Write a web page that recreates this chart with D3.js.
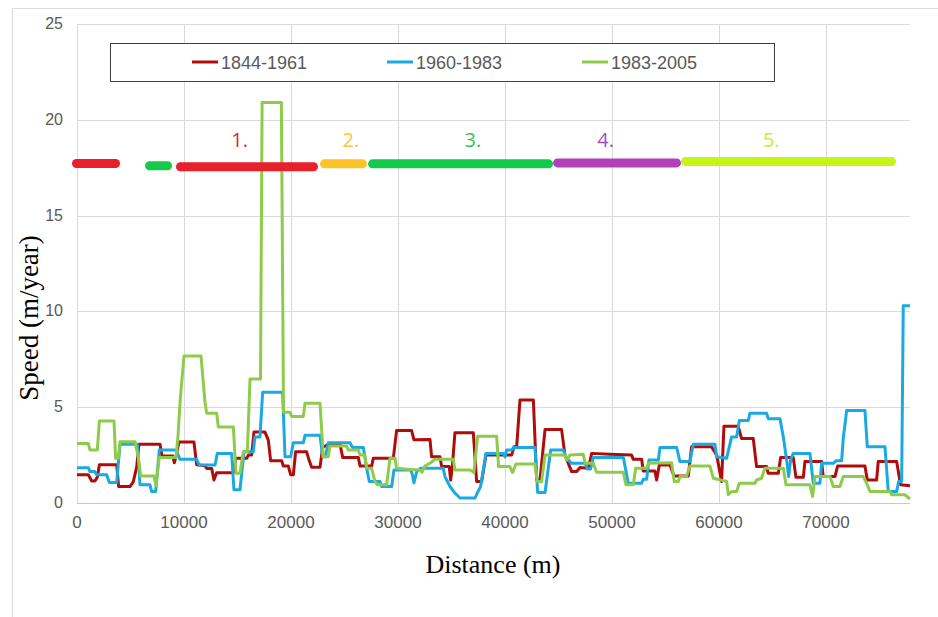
<!DOCTYPE html>
<html>
<head>
    <meta charset="utf-8">
    <title>Speed along distance</title>
    <script src="https://d3js.org/d3.v7.min.js"></script>
    <style>
        body { margin: 0; padding: 0; background: #fff; }
    </style>
</head>
<body>
    <div id="chart"></div>

    <script>
// Tick labels
const xTicks = [0, 10000, 20000, 30000, 40000, 50000, 60000, 70000];
const yTicks = [0, 5, 10, 15, 20, 25];

// Series: [distance (m), speed (m/year)]
const seriesNames = ["1844-1961", "1960-1983", "1983-2005"];

const speed1844 = [
  [0,1.47],[1060,1.47],[1370,1.15],[1680,1.15],[1900,1.35],[2090,2.0],[3710,2.0],[3890,0.86],[4950,0.86],[5260,1.1],
  [5580,1.9],[5790,3.07],[7760,3.07],[7940,2.45],[8940,2.45],[9100,2.1],[9250,2.45],[9530,3.19],[10930,3.19],[11180,2.0],
  [11960,1.95],[12120,1.8],[12590,1.8],[12800,1.2],[13050,1.58],[14600,1.58],[14850,2.33],[15860,2.33],[16010,2.5],[16320,2.5],
  [16540,3.7],[17570,3.7],[17880,3.28],[18100,2.2],[19130,2.2],[19280,1.93],[19750,1.93],[19970,1.47],[20220,1.47],[20430,2.67],
  [21460,2.67],[21710,2.2],[21930,1.86],[22710,1.86],[22960,2.9],[23490,3.07],[24580,3.07],[24830,2.38],[26290,2.38],[26450,1.93],
  [27540,1.93],[27690,2.33],[29560,2.33],[29870,3.79],[31270,3.79],[31490,3.3],[32990,3.31],[33140,2.41],[33920,2.41],[34080,1.9],
  [34790,1.9],[34920,1.2],[35080,1.9],[35320,3.66],[37040,3.66],[37350,1.12],[37820,1.12],[38220,2.5],[40620,2.5],[40840,2.93],
  [41090,2.93],[41400,5.38],[42650,5.38],[42960,1.2],[43270,1.2],[43740,3.83],[45290,3.83],[45600,2.5],[46230,1.64],[46700,1.64],
  [47010,1.85],[47790,1.81],[48100,2.59],[49800,2.55],[51830,2.5],[51990,2.28],[52770,2.28],[52920,1.67],[54010,1.67],[54170,1.2],
  [54420,1.98],[55420,1.98],[55790,1.41],[57130,1.41],[57440,2.93],[59310,2.93],[59780,2.5],[60240,1.12],[60460,4.0],[61800,4.0],
  [62110,3.36],[63200,3.36],[63510,1.9],[64450,1.9],[64600,1.55],[65540,1.55],[65760,2.38],[66940,2.38],[67190,1.34],[67880,1.34],
  [68030,2.16],[69590,2.16],[69740,1.38],[70840,1.38],[71080,1.93],[73640,1.93],[73860,1.2],[74730,1.2],[74880,2.16],[76600,2.16],
  [76970,0.95],[77850,0.9]
];

const speed1960 = [
  [0,1.84],[1060,1.84],[1215,1.64],[1680,1.64],[1840,1.47],[2770,1.47],[3020,1.07],[3710,1.07],[4020,3.07],[5640,3.07],
  [5890,0.95],[6820,0.95],[6980,0.6],[7350,0.6],[7690,2.76],[9250,2.76],[9630,2.28],[11180,2.28],[11430,1.98],[12900,1.98],
  [13110,2.59],[14450,2.59],[14670,0.69],[15230,0.69],[15610,2.67],[16480,2.67],[16630,3.45],[17100,3.45],[17350,5.78],[19220,5.78],
  [19440,2.41],[19970,2.41],[20220,3.14],[21150,3.14],[21310,3.53],[22710,3.53],[22960,2.41],[23210,2.41],[23490,3.14],[25510,3.14],
  [25760,2.9],[26760,2.9],[27070,1.81],[27320,1.12],[28320,1.12],[28470,0.86],[29410,0.86],[29620,1.72],[31200,1.72],[31350,1.47],
  [31490,1.05],[31750,1.64],[32100,1.81],[34230,1.81],[34390,1.38],[34860,0.86],[35320,0.52],[35790,0.26],[37190,0.26],[37410,0.52],
  [37720,0.86],[38220,2.59],[39840,2.59],[40000,2.41],[40150,2.76],[40620,2.76],[40780,2.9],[42800,2.9],[43050,0.55],[43740,0.55],
  [44270,2.76],[45450,2.76],[45760,2.33],[46230,2.07],[47500,2.07],[47700,1.78],[48000,1.78],[48250,2.38],[51060,2.38],[51520,1.03],
  [52770,1.03],[52920,1.24],[53240,1.24],[53450,2.24],[54330,2.24],[54480,2.9],[56040,2.9],[56350,2.16],[57280,2.16],[57600,3.07],
  [59620,3.07],[59780,2.41],[60710,2.33],[61180,3.45],[61650,3.45],[61900,4.31],[62740,4.31],[62890,4.69],[64450,4.69],[64600,4.4],
  [65700,4.4],[66010,3.45],[66320,2.24],[66510,1.38],[66690,2.24],[66940,2.59],[68500,2.59],[68810,1.03],[69430,1.03],[69590,2.07],
  [70680,2.07],[70930,2.2],[71460,2.2],[71610,3.36],[71930,4.83],[73640,4.83],[73860,2.93],[75510,2.93],[75820,0.6],[76600,0.6],
  [76790,1.12],[77070,1.12],[77220,10.3],[77850,10.3]
];

const speed1983 = [
  [0,3.1],[1060,3.1],[1215,2.76],[1900,2.76],[2090,4.28],[3460,4.28],[3610,2.33],[3860,2.33],[4020,3.2],[5420,3.2],
  [5730,2.4],[5950,1.41],[7200,1.41],[7380,0.9],[7690,2.38],[9250,2.38],[9440,3.5],[9630,5.26],[10000,7.67],[11590,7.67],
  [11960,5.26],[12120,4.69],[13050,4.69],[13210,3.97],[14610,3.97],[14860,1.55],[15230,1.55],[15540,2.67],[15920,2.67],[16170,6.47],
  [17150,6.47],[17300,20.9],[19100,20.9],[19300,4.74],[19900,4.74],[20060,4.52],[21150,4.52],[21310,5.21],[22710,5.21],[23020,2.41],
  [23490,2.41],[23640,2.97],[25200,2.97],[25360,2.76],[26290,2.76],[26450,2.5],[26910,2.5],[27070,1.81],[27540,1.81],[27850,1.12],
  [28070,0.95],[28940,0.95],[29250,2.33],[29720,2.33],[29870,1.81],[31120,1.75],[32050,1.72],[32240,1.6],[32520,1.93],[33050,2.1],
  [33450,2.28],[35170,2.28],[35320,1.72],[36730,1.72],[37100,1.6],[37440,3.48],[39220,3.48],[39400,1.9],[40460,1.9],[40710,1.59],
  [41020,2.03],[42800,2.03],[43020,1.12],[43420,1.12],[43740,2.5],[45600,2.5],[45760,2.24],[46070,2.5],[47300,2.55],[47500,2.07],
  [48250,2.07],[48560,1.6],[51060,1.6],[51300,0.95],[51990,0.95],[52210,1.81],[53240,1.81],[53390,2.07],[55570,2.1],[55820,1.12],
  [56200,1.12],[56350,1.38],[56970,1.38],[57280,1.93],[59150,1.93],[59470,1.29],[60710,1.12],[60870,0.43],[61180,0.6],[61650,0.6],
  [61900,1.03],[63360,1.03],[63510,1.2],[63980,1.29],[64290,1.81],[66010,1.81],[66260,0.95],[68500,0.95],[68750,0.34],[68970,1.38],
  [70370,1.38],[70680,0.86],[71300,0.86],[71610,1.38],[73480,1.38],[73800,1.03],[74110,0.6],[75980,0.6],[76130,0.43],[77380,0.43],
  [77850,0.21]
];

// Hand-drawn reach segments (start m, end m, level) and their labels
const segStart = [-50, 6780, 9670, 23130, 27620, 44910, 56870];
const segEnd   = [3600, 8460, 22100, 26680, 44070, 56030, 76120];
const segLevel = [17.72, 17.6, 17.55, 17.7, 17.7, 17.75, 17.82];
const segLabels = ["1.", "2.", "3.", "4.", "5."];
const segLabelAt = [15200, 25600, 37000, 49400, 64900];

// Styles
const seriesColors = ["#b00c0c", "#1ba9e1", "#8fcb4b"];
const segColors = ["#e8202b", "#15c94a", "#e8202b", "#fbc22a", "#15c94a", "#b23eb8", "#c6f417"];
const labelColors = ["#d9283f", "#f6c43e", "#35c35d", "#a84bbf", "#c9ec3e"];
const tickFont = "Liberation Sans Narrow, Arial Narrow, Liberation Sans, sans-serif";

const width = 938, height = 617;
const svg = d3.select("#chart").append("svg")
    .attr("width", width)
    .attr("height", height)
    .style("display", "block");

svg.append("rect").attr("width", width).attr("height", height).attr("fill", "#fff");

// Faint frame around the figure
svg.append("path")
    .attr("d", "M12.5,617V8.5H938")
    .attr("fill", "none")
    .attr("stroke", "#dcdcdc");

const x = d3.scaleLinear().domain([0, 77850]).range([77, 910]);
const y = d3.scaleLinear().domain([0, 25]).range([503, 24]);

// Gridlines
svg.append("g").selectAll("line")
  .data(yTicks)
  .join("line")
    .attr("x1", x(0)).attr("x2", 910)
    .attr("y1", d => Math.round(y(d)) + 0.5).attr("y2", d => Math.round(y(d)) + 0.5)
    .attr("stroke", d => d === 0 ? "#c8c8c8" : "#dadada");

svg.append("g").selectAll("line")
  .data(xTicks)
  .join("line")
    .attr("x1", d => Math.round(x(d)) + 0.5).attr("x2", d => Math.round(x(d)) + 0.5)
    .attr("y1", y(25)).attr("y2", y(0))
    .attr("stroke", "#dadada");

// Tick labels
svg.append("g").selectAll("text")
  .data(yTicks)
  .join("text")
    .attr("x", 63)
    .attr("y", d => y(d) + 5)
    .attr("text-anchor", "end")
    .attr("font-family", tickFont)
    .attr("font-size", 16)
    .attr("fill", "#595959")
    .text(d => d);

svg.append("g").selectAll("text")
  .data(xTicks)
  .join("text")
    .attr("x", d => x(d))
    .attr("y", 528)
    .attr("text-anchor", "middle")
    .attr("font-family", tickFont)
    .attr("font-size", 17)
    .attr("fill", "#595959")
    .text(d => d);

// Series lines
const line = d3.line()
    .x(d => x(d[0]))
    .y(d => y(d[1]));

[speed1844, speed1960, speed1983].forEach((s, i) => {
  svg.append("path")
      .datum(s)
      .attr("d", line)
      .attr("fill", "none")
      .attr("stroke", seriesColors[i])
      .attr("stroke-width", 3)
      .attr("stroke-linejoin", "round");
});

// Reach segments
svg.append("g").selectAll("line")
  .data(segStart)
  .join("line")
    .attr("x1", (d, i) => x(d))
    .attr("x2", (d, i) => x(segEnd[i]))
    .attr("y1", (d, i) => y(segLevel[i]))
    .attr("y2", (d, i) => y(segLevel[i]))
    .attr("stroke", (d, i) => segColors[i])
    .attr("stroke-width", 9)
    .attr("stroke-linecap", "round");

svg.append("g").selectAll("text")
  .data(segLabels)
  .join("text")
    .attr("x", (d, i) => x(segLabelAt[i]))
    .attr("y", y(18.6))
    .attr("text-anchor", "middle")
    .attr("font-family", "Open Sans, Noto Sans, sans-serif")
    .attr("font-size", 20)
    .attr("fill", (d, i) => labelColors[i])
    .text(d => d);

// Legend
const legend = svg.append("g");
legend.append("rect")
    .attr("x", 110.5).attr("y", 43.5)
    .attr("width", 664).attr("height", 38)
    .attr("fill", "#fff")
    .attr("stroke", "#404040");

seriesNames.forEach((name, i) => {
  const lx = 192 + i * 195;
  legend.append("line")
      .attr("x1", lx).attr("x2", lx + 26)
      .attr("y1", 62).attr("y2", 62)
      .attr("stroke", seriesColors[i])
      .attr("stroke-width", 3);
  legend.append("text")
      .attr("x", lx + 29).attr("y", 68.5)
      .attr("font-family", "Liberation Sans, Arial, sans-serif")
      .attr("font-size", 18)
      .attr("fill", "#595959")
      .text(name);
});

// Axis titles
svg.append("text")
    .attr("x", 493).attr("y", 573)
    .attr("text-anchor", "middle")
    .attr("font-family", "Liberation Serif, Times New Roman, serif")
    .attr("font-size", 26)
    .attr("fill", "#000")
    .text("Distance (m)");

svg.append("text")
    .attr("transform", "translate(38,318) rotate(-90)")
    .attr("text-anchor", "middle")
    .attr("font-family", "Liberation Serif, Times New Roman, serif")
    .attr("font-size", 27)
    .attr("fill", "#000")
    .text("Speed (m/year)");
    </script>
</body>
</html>
